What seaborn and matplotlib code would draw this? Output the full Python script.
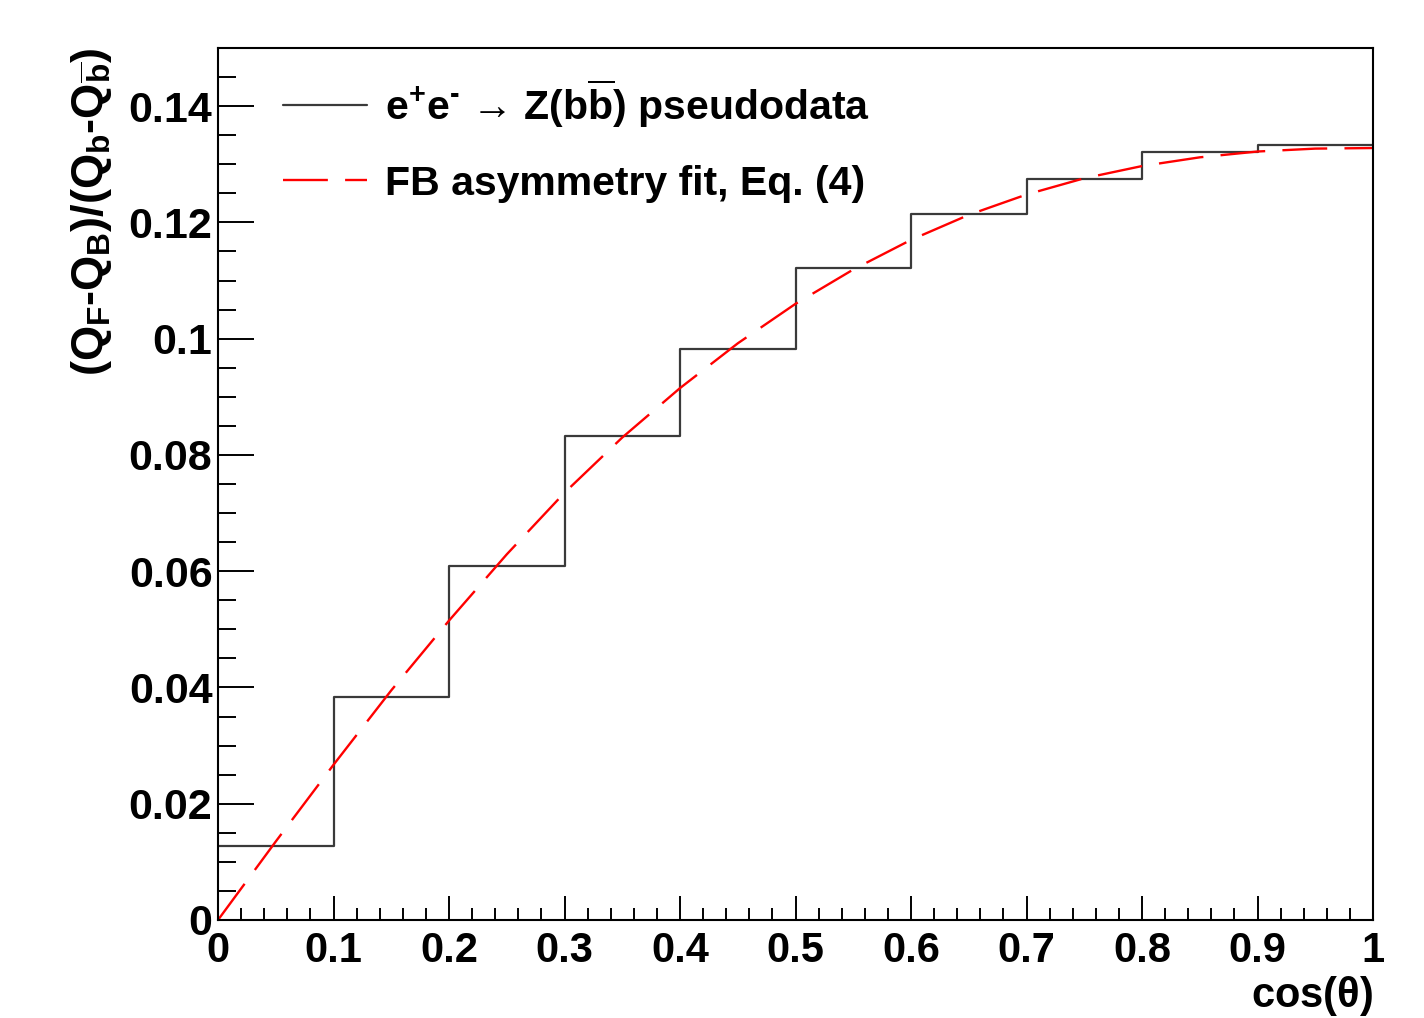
import matplotlib
matplotlib.use('Agg')
import matplotlib.pyplot as plt
import seaborn as sns
import numpy as np

# pseudodata histogram: 10 bins in cos(theta)
bin_edges = [0.0, 0.1, 0.2, 0.3, 0.4, 0.5, 0.6, 0.7, 0.8, 0.9, 1.0]
pseudo = [0.0128, 0.0383, 0.0609, 0.0832, 0.0983, 0.1122, 0.1215, 0.1274, 0.1322, 0.1334]

# FB asymmetry fit curve
fit_x = [0.0, 0.05, 0.1, 0.15, 0.2, 0.25, 0.3, 0.35, 0.4, 0.45, 0.5,
         0.55, 0.6, 0.65, 0.7, 0.75, 0.8, 0.85, 0.9, 0.95, 1.0]
fit_y = [0.0, 0.0135, 0.0267, 0.0395, 0.0515, 0.0629, 0.0735, 0.0830, 0.0915, 0.0992, 0.1060,
         0.1119, 0.1170, 0.1213, 0.1248, 0.1276, 0.1297, 0.1312, 0.1322, 0.1327, 0.1328]

sns.set_style('ticks')
plt.rcParams['font.family'] = ['Liberation Sans', 'DejaVu Sans']
plt.rcParams['font.weight'] = 'bold'
plt.rcParams['text.color'] = 'black'
plt.rcParams['axes.labelcolor'] = 'black'
plt.rcParams['xtick.color'] = 'black'
plt.rcParams['ytick.color'] = 'black'
plt.rcParams['mathtext.fontset'] = 'custom'
plt.rcParams['mathtext.rm'] = 'Liberation Sans:bold'
plt.rcParams['mathtext.it'] = 'Liberation Sans:bold'
plt.rcParams['mathtext.bf'] = 'Liberation Sans:bold'
plt.rcParams['mathtext.sf'] = 'Liberation Sans:bold'

fig = plt.figure(figsize=(14.24, 10.18), dpi=100)
ax = fig.add_axes([0.1531, 0.0963, 0.8111, 0.8565])

centers = [(a + b) / 2 for a, b in zip(bin_edges[:-1], bin_edges[1:])]
sns.histplot(x=centers, weights=pseudo, bins=bin_edges, element='step', fill=False,
             color='#3a3a3a', lw=1.6, ax=ax)
sns.lineplot(x=fit_x, y=fit_y, color='#ff0000', lw=1.7, ax=ax)
ax.lines[-1].set_dashes((19, 7.3))

ax.set_xlim(0, 1)
ax.set_ylim(0, 0.15)
ax.set_xticks(np.arange(0, 1.01, 0.1))
ax.set_xticks(np.arange(0, 1.001, 0.02), minor=True)
ax.set_yticks(np.arange(0, 0.141, 0.02))
ax.set_yticks(np.arange(0, 0.1501, 0.005), minor=True)
ax.set_xticklabels(['0', '0.1', '0.2', '0.3', '0.4', '0.5', '0.6', '0.7', '0.8', '0.9', '1'])
ax.set_yticklabels(['0', '0.02', '0.04', '0.06', '0.08', '0.1', '0.12', '0.14'])

for s in ax.spines.values():
    s.set_linewidth(1.5)
    s.set_color('black')
ax.tick_params(axis='both', which='both', direction='in', width=1.4, color='black')
ax.tick_params(axis='x', which='major', length=17, labelsize=30, pad=8)
ax.tick_params(axis='x', which='minor', length=8.6)
ax.tick_params(axis='y', which='major', length=26, labelsize=31, pad=4)
ax.tick_params(axis='y', which='minor', length=13)

ax.set_ylabel('($Q_F$-$Q_B$)/($Q_b$-$Q_{\\overline{b}}$)', fontsize=32.5, fontweight='bold', loc='top')
ax.yaxis.set_label_coords(-0.09, 1.0)
ax.set_xlabel('cos($\\theta$)', fontsize=30, fontweight='bold', loc='right')
ax.xaxis.set_label_coords(1.0, -0.062)

ax.legend(ax.lines[:2],
          ['e$^{+}$e$^{\\text{-}}$ \u2192 Z(b$\\overline{b}$) pseudodata', 'FB asymmetry fit, Eq. (4)'],
          loc='upper left', bbox_to_anchor=(0.056, 0.966), frameon=False,
          fontsize=29.5, handlelength=2.05, handletextpad=0.44, labelspacing=0.85,
          borderpad=0, borderaxespad=0)

fig.savefig('out.png', dpi=100)
